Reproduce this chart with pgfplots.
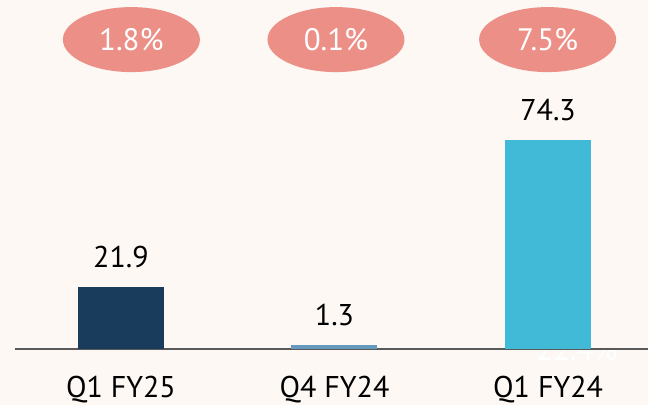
\documentclass[border=0pt]{standalone}
\usepackage{fontspec}
\setmainfont{PT Sans}
\usepackage{pgfplots}
\pgfplotsset{compat=1.18}
\usetikzlibrary{shapes.geometric}

\definecolor{bgcream}{HTML}{FDF8F4}
\definecolor{navy}{HTML}{193C5C}
\definecolor{steel}{HTML}{6699BE}
\definecolor{cyanbar}{HTML}{40BAD7}
\definecolor{salmon}{HTML}{EC8F87}
\definecolor{axisgray}{HTML}{595959}

\begin{document}
\begin{tikzpicture}
% background, 1pt = 1px of the reference
\fill[bgcream] (0,0) rectangle (648pt,405pt);
\begin{axis}[
  at={(15pt,56.3pt)}, anchor=south west,
  scale only axis,
  width=633pt, height=337.2pt,
  xmin=-0.496, xmax=2.468,
  ymin=0, ymax=120,
  ybar, bar width=86pt,
  axis x line=bottom, axis y line=none,
  x axis line style={-, draw=axisgray, line width=2pt},
  xtick={0,1,2},
  xticklabels={Q1 FY25, Q4 FY24, Q1 FY24},
  xtick style={draw=none},
  xticklabel style={font=\fontsize{30}{30}\selectfont, anchor=base, yshift=-46.5pt},
  ytick=\empty,
  /pgf/number format/assume math mode=true,
  nodes near coords,
  every node near coord/.append style={font=\fontsize{30}{30}\selectfont, anchor=base, yshift=19.5pt, text=black},
  clip=false,
]
\addplot[fill=navy, draw=none, bar shift=0pt] coordinates {(0,21.9)};
\addplot[fill=steel, draw=none, bar shift=0pt] coordinates {(1,1.3)};
\addplot[fill=cyanbar, draw=none, bar shift=0pt] coordinates {(2,74.3)};

\node[ellipse, fill=salmon, minimum width=137pt, minimum height=65pt, inner sep=0pt,
      text=white, font=\fontsize{31}{31}\selectfont] at (axis cs:0.049,110) {1.8\%};
\node[ellipse, fill=salmon, minimum width=137pt, minimum height=65pt, inner sep=0pt,
      text=white, font=\fontsize{31}{31}\selectfont] at (axis cs:1.007,110) {0.1\%};
\node[ellipse, fill=salmon, minimum width=137pt, minimum height=65pt, inner sep=0pt,
      text=white, font=\fontsize{31}{31}\selectfont] at (axis cs:1.998,110) {7.5\%};
\end{axis}
% leftover label, mostly hidden under the axis line
\begin{scope}
\clip (0,0) rectangle (648pt,55pt);
\node[anchor=base, text=white, font=\fontsize{31}{31}\selectfont] at (577pt,45pt) {22.4\%};
\end{scope}
\pgfresetboundingbox
\path (0,0) rectangle (648pt,405pt);
\end{tikzpicture}
\end{document}
